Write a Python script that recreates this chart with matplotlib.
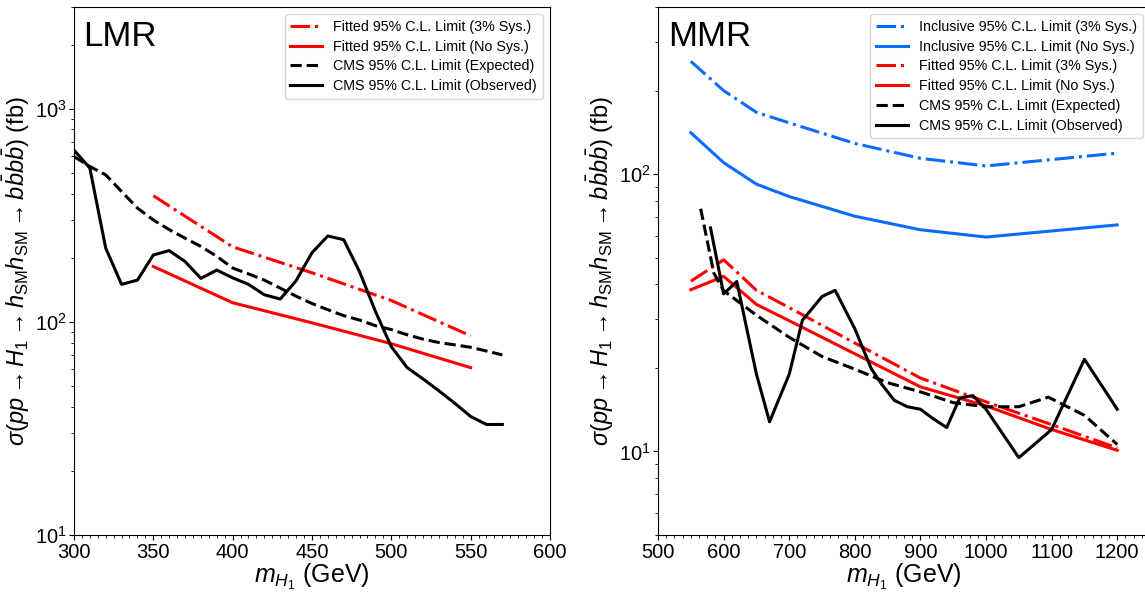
import numpy as np
import matplotlib
matplotlib.use('Agg')
import matplotlib.pyplot as plt
from matplotlib.ticker import MultipleLocator

plt.rcParams['font.family'] = ['Liberation Sans', 'DejaVu Sans']
plt.rcParams['mathtext.fontset'] = 'custom'
plt.rcParams['mathtext.rm'] = 'Liberation Sans'
plt.rcParams['mathtext.it'] = 'Liberation Sans:italic'
plt.rcParams['mathtext.bf'] = 'Liberation Sans:bold'

# ---- LMR data ----
lmr_fit_x = [350, 400, 450, 500, 550]
lmr_fit_sys = [391, 225, 170, 126, 86]
lmr_fit_nosys = [182, 123, 99, 79, 61]

lmr_cms_x = list(range(300, 571, 10))
lmr_cms_exp = [597, 536, 490, 409, 342, 301, 271, 247, 226, 203, 179, 168, 157, 144,
               132, 122, 114, 107, 102, 96, 92, 87, 83, 80, 78, 76, 73, 70]
lmr_cms_obs = [640, 527, 222, 150, 157, 206, 216, 192, 160, 175, 161, 150, 134, 128,
               156, 211, 253, 243, 172, 112, 76.5, 61, 54, 47.5, 41.5, 36, 33, 33]

# ---- MMR data ----
mmr_inc_x = [550, 600, 650, 700, 800, 900, 1000, 1200]
mmr_inc_sys = [255, 200, 167, 153, 129, 114, 107, 119]
mmr_inc_nosys = [141, 110, 92, 83, 70.5, 63, 59.3, 65.6]

mmr_fit_x = [550, 600, 650, 700, 800, 900, 1000, 1100, 1200]
mmr_fit_sys = [41.1, 49.1, 38.1, 33, 24.6, 18.4, 15.1, 12.5, 10.3]
mmr_fit_nosys = [38.3, 42.8, 33.9, 29.6, 22.5, 17.1, 14.6, 12.0, 10.1]

mmr_exp_x = [565, 585, 600, 650, 700, 750, 800, 850, 900, 950, 1000, 1050, 1095, 1150, 1200]
mmr_exp = [75, 44, 38, 31, 25.8, 22, 19.8, 17.7, 16.4, 15.0, 14.5, 14.5, 15.7, 13.5, 10.6]

mmr_obs_x = [580, 600, 620, 650, 670, 700, 720, 750, 770, 800, 825, 840, 860, 880,
             900, 920, 940, 960, 980, 1000, 1050, 1100, 1150, 1200]
mmr_obs = [64, 37, 41, 19, 12.8, 19, 29.7, 36.2, 38.1, 27.7, 19.9, 17.6, 15.3, 14.5,
           14.2, 13.1, 12.2, 15.6, 15.9, 14.2, 9.5, 12, 21.5, 14.2]

RED = '#ff0000'
BLUE = '#0b6bff'
LW = 2.2

ylab = r'$\sigma(pp \rightarrow H_1 \rightarrow h_{\rm SM}h_{\rm SM} \rightarrow b\bar{b}b\bar{b})$ (fb)'
xlab = r'$m_{H_1}$ (GeV)'

fig = plt.figure(figsize=(11.45, 5.92), dpi=100)
ax1 = fig.add_axes([0.0646, 0.0963, 0.4157, 0.8917])
ax2 = fig.add_axes([0.5747, 0.0963, 0.4297, 0.8917])

# LMR
ax1.plot(lmr_fit_x, lmr_fit_sys, '-.', color=RED, lw=LW, label='Fitted 95% C.L. Limit (3% Sys.)')
ax1.plot(lmr_fit_x, lmr_fit_nosys, '-', color=RED, lw=LW, label='Fitted 95% C.L. Limit (No Sys.)')
ax1.plot(lmr_cms_x, lmr_cms_exp, '--', color='black', lw=LW, label='CMS 95% C.L. Limit (Expected)')
ax1.plot(lmr_cms_x, lmr_cms_obs, '-', color='black', lw=LW, label='CMS 95% C.L. Limit (Observed)')
ax1.set_yscale('log')
ax1.set_xlim(300, 600)
ax1.set_ylim(10, 3000)
ax1.xaxis.set_major_locator(MultipleLocator(50))
ax1.xaxis.set_minor_locator(MultipleLocator(5))
ax1.text(0.02, 0.975, 'LMR', transform=ax1.transAxes, fontsize=25, va='top', ha='left')

# MMR
ax2.plot(mmr_inc_x, mmr_inc_sys, '-.', color=BLUE, lw=LW, label='Inclusive 95% C.L. Limit (3% Sys.)')
ax2.plot(mmr_inc_x, mmr_inc_nosys, '-', color=BLUE, lw=LW, label='Inclusive 95% C.L. Limit (No Sys.)')
ax2.plot(mmr_fit_x, mmr_fit_sys, '-.', color=RED, lw=LW, label='Fitted 95% C.L. Limit (3% Sys.)')
ax2.plot(mmr_fit_x, mmr_fit_nosys, '-', color=RED, lw=LW, label='Fitted 95% C.L. Limit (No Sys.)')
ax2.plot(mmr_exp_x, mmr_exp, '--', color='black', lw=LW, label='CMS 95% C.L. Limit (Expected)')
ax2.plot(mmr_obs_x, mmr_obs, '-', color='black', lw=LW, label='CMS 95% C.L. Limit (Observed)')
ax2.set_yscale('log')
ax2.set_xlim(500, 1250)
ax2.set_ylim(5, 400)
ax2.xaxis.set_major_locator(MultipleLocator(100))
ax2.xaxis.set_minor_locator(MultipleLocator(12.5))
ax2.text(0.02, 0.975, 'MMR', transform=ax2.transAxes, fontsize=25, va='top', ha='left')

for ax in (ax1, ax2):
    ax.set_xlabel(xlab, fontsize=18, labelpad=0)
    ax.set_ylabel(ylab, fontsize=17, labelpad=2)
    ax.tick_params(axis='both', which='major', labelsize=14.5, pad=2)
    ax.legend(loc='upper right', fontsize=10.3, handlelength=2.2, borderaxespad=0.5,
              labelspacing=0.4)

fig.savefig('out.png', dpi=100)
